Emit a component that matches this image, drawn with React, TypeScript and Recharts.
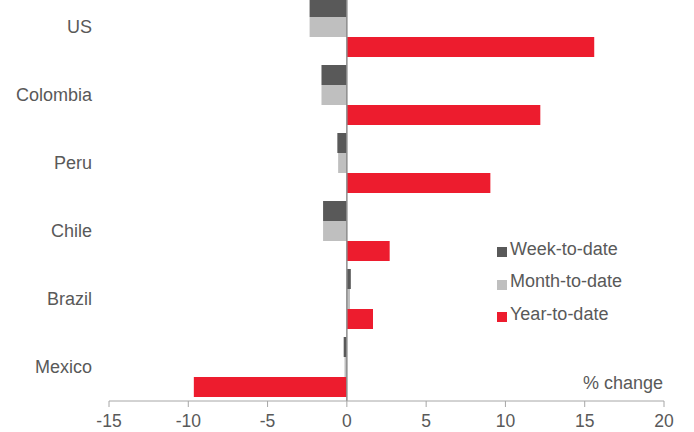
import { Bar, BarChart, Legend, ReferenceLine, XAxis, YAxis } from "recharts";

const categories = ["US", "Colombia", "Peru", "Chile", "Brazil", "Mexico"];
const weekToDate = [-2.35, -1.6, -0.6, -1.5, 0.25, -0.2];
const monthToDate = [-2.35, -1.6, -0.55, -1.5, 0.2, -0.15];
const yearToDate = [15.6, 12.2, 9.05, 2.7, 1.65, -9.65];
const xTicks = [-15, -10, -5, 0, 5, 10, 15, 20];

const series = [
  { key: "week", name: "Week-to-date", color: "#595959" },
  { key: "month", name: "Month-to-date", color: "#bfbfbf" },
  { key: "year", name: "Year-to-date", color: "#ed1c2e" },
];

const rows = categories.map((country, i) => ({
  country,
  week: weekToDate[i],
  month: monthToDate[i],
  year: yearToDate[i],
}));

const font = "'Liberation Sans', Arial, sans-serif";
const textColor = "#595959";
const fontSize = 18;

function LegendBox() {
  return (
    <div style={{ fontFamily: font, fontSize, color: textColor }}>
      {series.map((s) => (
        <div key={s.key} style={{ height: 32.5, display: "flex", alignItems: "center" }}>
          <span style={{ width: 10, height: 10, background: s.color, marginRight: 3, marginTop: 6 }} />
          <span>{s.name}</span>
        </div>
      ))}
    </div>
  );
}

export default function App() {
  return (
    <div style={{ position: "absolute", top: 0, left: 0, width: 694, height: 432, overflow: "hidden", background: "#fff" }}>
      <div style={{ position: "absolute", top: -7, left: 0 }}>
        <BarChart
          width={694}
          height={439}
          data={rows}
          layout="vertical"
          margin={{ top: 0, right: 30, bottom: 1, left: 0 }}
          barCategoryGap={4}
          barGap={0}
        >
          <XAxis
            type="number"
            domain={[-15, 20]}
            ticks={xTicks}
            interval={0}
            height={30}
            stroke="#a6a6a6"
            tickSize={6}
            tickMargin={8}
            tick={{ fill: textColor, fontSize: 17.5, fontFamily: font }}
          />
          <YAxis
            type="category"
            dataKey="country"
            width={109}
            axisLine={false}
            tickLine={false}
            tickSize={0}
            tickMargin={17}
            tick={{ fill: textColor, fontSize, fontFamily: font }}
          />
          <Legend
            layout="vertical"
            align="center"
            verticalAlign="middle"
            content={() => <LegendBox />}
            wrapperStyle={{ position: "absolute", left: 497, top: 240, width: 190 }}
          />
          {series.map((s) => (
            <Bar key={s.key} dataKey={s.key} name={s.name} fill={s.color} isAnimationActive={false} />
          ))}
          <ReferenceLine x={0} stroke="#8c8c8c" strokeWidth={1.5} />
        </BarChart>
      </div>
      <div
        style={{
          position: "absolute",
          right: 31,
          top: 373,
          fontFamily: font,
          fontSize,
          color: textColor,
        }}
      >
        % change
      </div>
    </div>
  );
}
